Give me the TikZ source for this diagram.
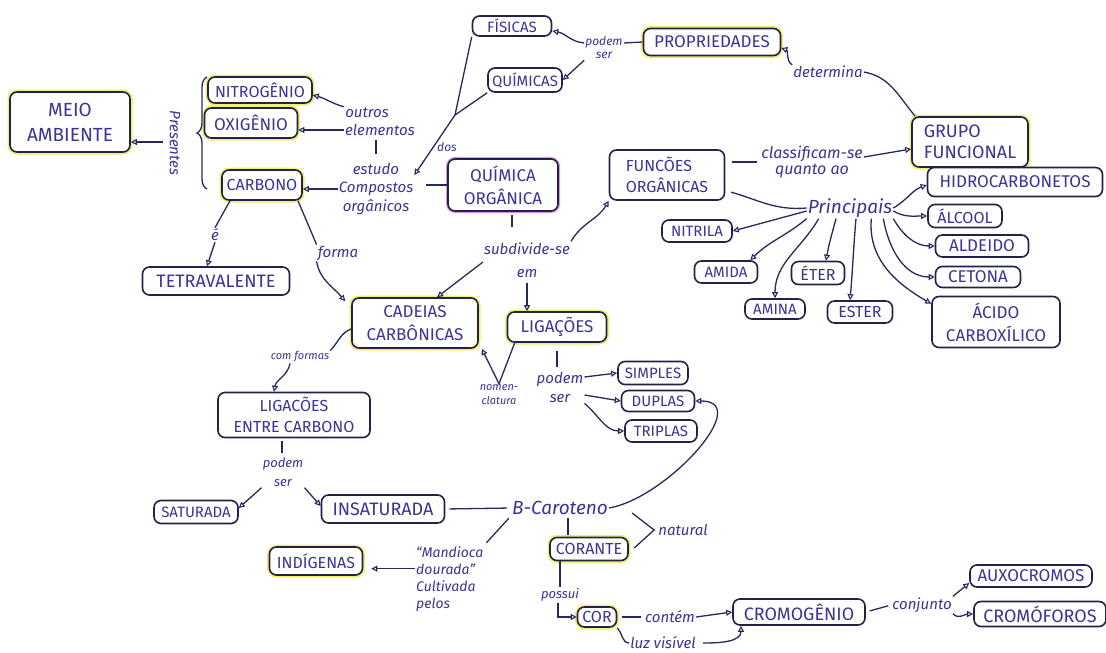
\documentclass[tikz,border=0pt]{standalone}
\usepackage{fontspec}
\setmainfont{Fira Sans}
\usetikzlibrary{arrows.meta,decorations.pathreplacing,calc}
\definecolor{ink}{RGB}{58,52,150}
\definecolor{edge}{RGB}{34,34,72}
\definecolor{wire}{RGB}{40,40,95}
\definecolor{glow}{RGB}{238,236,80}
\definecolor{pinkglow}{RGB}{215,150,225}
\newcommand{\fsz}[2]{\fontsize{#1}{#2}\selectfont}
\tikzset{
  box/.style={draw=edge, line width=1.6pt, rounded corners=7pt, text=ink,
    align=center, inner sep=2pt, fill=white},
  hl/.style={box, preaction={draw=glow, line width=5pt, draw opacity=0.85}},
  pk/.style={box, preaction={draw=pinkglow, line width=4pt}},
  lbl/.style={text=ink, inner sep=1pt, align=center, font=\itshape\fsz{15}{18}},
  con/.style={draw=wire, line width=1.3pt},
  arr/.style={con, -{Triangle[open, length=6pt, width=6pt, line width=1.1pt]}},
}
\begin{document}
\begin{tikzpicture}[x=1pt,y=-1pt]
\fill[white] (0,0) rectangle (1106,653);
\useasboundingbox (0,0) rectangle (1106,653);

% ---------- elements of organic compounds ----------
\node[hl, minimum width=120pt, minimum height=60pt, font=\fsz{19}{25}] (meio) at (70,122) {MEIO\\AMBIENTE};
\node[hl, minimum width=104pt, minimum height=26pt, font=\fsz{16}{18}] (nitro) at (260,90) {NITROGÊNIO};
\node[hl, minimum width=93pt, minimum height=30pt, font=\fsz{17}{19}] (oxi) at (251,123) {OXIGÊNIO};
\node[hl, minimum width=80pt, minimum height=30pt, font=\fsz{16}{18}] (carb) at (262,185) {CARBONO};
\node[box, minimum width=147pt, minimum height=28pt, font=\fsz{18}{20}] (tetra) at (216,281) {TETRAVALENTE};

\node[lbl, rotate=-90] (pres) at (175,143) {Presentes};
\coordinate (prestail) at (163,142);
\node[lbl] (outr) at (367,113) {outros};
\node[lbl] (elem) at (380,130) {elementos};
\node[lbl, font=\itshape\fsz{15}{18.5}] (estudo) at (376,189) {estudo\\Compostos\\orgânicos};
\node[lbl, font=\itshape\fsz{12}{14}] (dos) at (447,147) {dos};
\node[lbl] (e) at (215,235) {é};
\node[lbl] (form) at (338,253) {forma};
\coordinate (fq) at (455,115);

% ---------- properties ----------
\node[box, minimum width=79pt, minimum height=20pt, font=\fsz{15}{17}] (fis) at (512,26) {FÍSICAS};
\node[box, minimum width=74pt, minimum height=24pt, font=\fsz{15}{17}] (qui) at (525,80) {QUÍMICAS};
\node[lbl, font=\itshape\fsz{12}{13}] (pod1) at (604,48) {podem\\ser};
\node[hl, minimum width=137pt, minimum height=27pt, font=\fsz{17}{19}] (prop) at (712,42) {PROPRIEDADES};
\node[lbl] (det) at (828,72) {determina};
\node[hl, minimum width=116pt, minimum height=50pt, font=\fsz{18}{21}, align=left] (grupo) at (970,142) {GRUPO\\FUNCIONAL};

% ---------- organic chemistry and functions ----------
\node[pk, minimum width=110pt, minimum height=52pt, font=\fsz{17}{23}] (qo) at (503,185) {QUÍMICA\\ORGÂNICA};
\node[box, minimum width=115pt, minimum height=50pt, font=\fsz{16}{21}, align=left] (func) at (667,175) {FUNCÕES\\ORGÂNICAS};
\node[lbl, font=\itshape\fsz{16}{16}] (class) at (812,162) {classificam-se\\quanto ao};
\node[lbl, font=\itshape\fsz{19}{20}] (princ) at (850,208) {Principais};

\node[box, minimum width=175pt, minimum height=29pt, font=\fsz{17}{19}] (hidro) at (1015,182) {HIDROCARBONETOS};
\node[box, minimum width=74pt, minimum height=23pt, font=\fsz{16}{18}] (alc) at (965,216) {ÁLCOOL};
\node[box, minimum width=93pt, minimum height=22pt, font=\fsz{17}{19}] (ald) at (982,246) {ALDEIDO};
\node[box, minimum width=85pt, minimum height=21pt, font=\fsz{17}{19}] (cet) at (978,277) {CETONA};
\node[box, minimum width=128pt, minimum height=51pt, font=\fsz{17}{23}] (acid) at (996,322) {ÁCIDO\\CARBOXÍLICO};
\node[box, minimum width=70pt, minimum height=22pt, font=\fsz{15}{17}] (nitri) at (697,231) {NITRILA};
\node[box, minimum width=63pt, minimum height=22pt, font=\fsz{15}{17}] (amida) at (726,272) {AMIDA};
\node[box, minimum width=53pt, minimum height=23pt, font=\fsz{16}{18}] (eter) at (818,273) {ÉTER};
\node[box, minimum width=60pt, minimum height=20pt, font=\fsz{15}{17}] (amina) at (775,309) {AMINA};
\node[box, minimum width=65pt, minimum height=22pt, font=\fsz{16}{18}] (ester) at (860,312) {ESTER};

% ---------- chains and bonds ----------
\node[lbl, font=\itshape\fsz{15}{23}] (subd) at (527,260) {subdivide-se\\em};
\node[hl, minimum width=126pt, minimum height=50pt, font=\fsz{17}{23}] (cad) at (415,323) {CADEIAS\\CARBÔNICAS};
\node[hl, minimum width=99pt, minimum height=30pt, font=\fsz{17}{19}] (lig) at (557,327) {LIGAÇÕES};
\node[lbl, font=\itshape\fsz{15}{19}] (pod2) at (560,387) {podem\\ser};
\node[lbl, font=\itshape\fsz{11}{14}] (nomen) at (499,395) {nomen-\\clatura};
\node[box, minimum width=70pt, minimum height=23pt, font=\fsz{15}{17}] (simp) at (653,373) {SIMPLES};
\node[box, minimum width=73pt, minimum height=21pt, font=\fsz{15}{17}] (dup) at (658,401) {DUPLAS};
\node[box, minimum width=72pt, minimum height=22pt, font=\fsz{15}{17}] (trip) at (661,431) {TRIPLAS};

\node[lbl, font=\itshape\fsz{11}{13}] (comf) at (300,357) {com formas};
\node[box, minimum width=152pt, minimum height=45pt, font=\fsz{16}{21}] (ligec) at (294,415) {LIGACÕES\\ENTRE CARBONO};
\node[lbl, font=\itshape\fsz{13}{19}] (pod3) at (283,472) {podem\\ser};
\node[box, minimum width=84pt, minimum height=23pt, font=\fsz{15}{17}] (sat) at (196,512) {SATURADA};
\node[box, minimum width=123pt, minimum height=28pt, font=\fsz{18}{20}] (insat) at (383,509) {INSATURADA};

% ---------- beta-carotene ----------
\node[lbl, font=\itshape\fsz{19}{20}] (bcar) at (560,508) {B-Caroteno};
\node[hl, minimum width=78pt, minimum height=23pt, font=\fsz{16}{18}] (coran) at (589,549) {CORANTE};
\node[lbl] (nat) at (683,530) {natural};
\node[lbl, align=left, anchor=north west, font=\itshape\fsz{14}{17}] (mand) at (415,545) {“Mandioca\\dourada”\\Cultivada\\pelos};
\node[hl, minimum width=93pt, minimum height=28pt, font=\fsz{16}{18}] (indig) at (316,561) {INDÍGENAS};
\node[lbl, font=\itshape\fsz{13}{15}] (poss) at (560,595) {possui};
\node[hl, minimum width=39pt, minimum height=20pt, font=\fsz{16}{18}] (cor) at (597,617) {COR};
\node[lbl] (cont) at (670,617) {contém};
\node[box, minimum width=132pt, minimum height=26pt, font=\fsz{18}{20}] (crom) at (799,612) {CROMOGÊNIO};
\node[lbl] (luz) at (663,643) {luz visível};
\node[lbl] (conj) at (922,605) {conjunto};
\node[box, minimum width=122pt, minimum height=22pt, font=\fsz{17}{19}] (aux) at (1031,576) {AUXOCROMOS};
\node[box, minimum width=132pt, minimum height=25pt, font=\fsz{18}{20}] (crof) at (1040,614) {CROMÓFOROS};

% ---------- connectors: elements ----------
\draw[con, decorate, decoration={brace, amplitude=10pt}] (207,189) -- (207,77);
\draw[arr] (prestail) -- (prestail -| meio.east);
\draw[arr] (outr.north west) to[out=165,in=-15] ([yshift=-5pt]nitro.east);
\draw[arr] (elem.west) -- (elem.west -| oxi.east);
\draw[con, shorten <=3pt, shorten >=8pt] (estudo.north |- elem.south) -- (estudo.north);
\draw[arr] (estudo.west) -- (estudo.west -| carb.east);
\draw[con, shorten >=12pt] (qo.west) -- (qo.west -| estudo.east);
\draw[con] (fis.south west) -- (fq);
\draw[con] (qui.south west) -- (fq);
\draw[arr] (fq) -- (estudo.20);
\draw[con] ([xshift=-32pt]carb.south) -- (e.north);
\draw[arr] (e.south) -- ([xshift=-9pt]tetra.north);
\draw[con] ([xshift=36pt]carb.south) -- (form.north west);
\draw[arr] (form.south west) to[out=-80,in=130] ([xshift=-6pt,yshift=-4pt]cad.north west);

% ---------- connectors: properties ----------
\draw[arr] ([yshift=5pt]pod1.west) to[out=175,in=-10] ([yshift=-5pt]fis.east);
\draw[arr] (pod1.south west) -- (qui.east);
\draw[con] ([yshift=5pt]pod1.east) -- (prop.west);
\draw[arr] (det.north west) to[out=150,in=-20] ([yshift=-6pt]prop.east);
\draw[con] (det.east) to[out=-10,in=130] ([xshift=4pt]grupo.north west);

% ---------- connectors: functions ----------
\draw[con, shorten <=7pt, shorten >=3pt] ([yshift=13pt]func.east) -- (class.west);
\draw[arr] ([yshift=5pt]class.east) -- ([yshift=-7pt]grupo.west);
\draw[con, shorten <=6pt] (func.-15) to[out=-15,in=185] (princ.west);
\draw[arr] ([yshift=-3pt]princ.west) -- (nitri.east);
\draw[arr] (princ.south west) to[out=-140,in=45] ([xshift=-8pt]amida.north east);
\draw[arr] ([xshift=12pt]princ.south west) to[out=-120,in=90] (amina.north);
\draw[arr] ([xshift=-14pt]princ.south) to[out=-105,in=80] ([xshift=8pt]eter.north);
\draw[arr] ([xshift=6pt]princ.south) to[out=-95,in=85] ([xshift=-10pt]ester.north);
\draw[arr] (princ.east) to[out=30,in=200] ([yshift=-3pt]hidro.west);
\draw[arr] ([yshift=-3pt]princ.east) to[out=-30,in=180] (alc.west);
\draw[arr] (princ.south east) to[out=-60,in=180] (ald.west);
\draw[arr] ([xshift=-10pt]princ.south east) to[out=-80,in=180] (cet.west);
\draw[arr] ([xshift=-22pt]princ.south east) to[out=-95,in=150] ([yshift=-8pt]acid.north west);

% ---------- connectors: chains and bonds ----------
\draw[con, shorten <=3pt, shorten >=14pt] ([xshift=9pt]qo.south) -- ([xshift=9pt]qo.south |- subd.north);
\draw[arr] ([yshift=-2pt]subd.west) -- ([xshift=22pt]cad.north);
\draw[arr] (subd.north east) to[out=60,in=-120] (func.south west);
\draw[arr, shorten <=4pt] (subd.south) -- (subd.south |- lig.north);
\draw[arr] ([xshift=8pt]lig.south west) -- (nomen.north) -- ([xshift=3pt]cad.south east);
\draw[con, shorten <=8pt, shorten >=4pt] (lig.south) -- (lig.south |- pod2.north);
\draw[arr] ([yshift=10pt]pod2.east) -- (simp.west);
\draw[arr] ([yshift=-8pt]pod2.east) -- (dup.west);
\draw[arr] (pod2.south east) to[out=-40,in=180] (trip.west);

\draw[con] ([yshift=-6pt]cad.west) to[out=200,in=45] (comf.north east);
\draw[arr] ([xshift=-10pt]comf.south) to[out=-100,in=80] ([xshift=-20pt]ligec.north);
\draw[con, shorten <=3pt, shorten >=3pt] ([xshift=-12pt]ligec.south) -- ([xshift=-12pt]ligec.south |- pod3.north);
\draw[arr] (pod3.south west) -- ([yshift=4pt]sat.east);
\draw[arr] (pod3.south east) -- ([yshift=3pt]insat.west);

% ---------- connectors: beta-carotene ----------
\draw[con, shorten <=4pt, shorten >=4pt] (insat.east) -- (bcar.west);
\draw[arr] (bcar.east) to[out=10,in=0,looseness=1.1] (dup.east);
\draw[con, shorten <=2pt, shorten >=2pt] ([xshift=8pt]bcar.south) -- ([xshift=8pt]bcar.south |- coran.north);
\draw[con] ($(nat.west)+(-25,-17)$) -- ([xshift=-3pt]nat.west) -- ($(nat.west)+(-23,18)$);
\draw[con, shorten <=3pt, shorten >=3pt] (bcar.south west) -- (mand.north east);
\draw[arr, shorten >=8pt] ([yshift=10pt]mand.west) -- ([yshift=10pt]mand.west -| indig.east);
\draw[con] (poss.north |- coran.south) -- (poss.north);
\draw[arr] ([xshift=-2pt]poss.south) |- (cor.west);
\draw[con, shorten <=5pt, shorten >=3pt] (cor.east) -- (cont.west);
\draw[arr] (cont.east) -- (crom.west);
\draw[con] (cor.south east) to[out=-45,in=180] (luz.west);
\draw[arr] ([xshift=6pt]luz.east) to[out=0,in=-90] ([xshift=-58pt]crom.south);
\draw[con, shorten <=4pt, shorten >=3pt] (crom.east) -- (conj.west);
\draw[arr] (conj.north east) -- ([yshift=-7pt]aux.west);
\draw[arr] (conj.south east) to[out=-50,in=180] (crof.west);
\end{tikzpicture}
\end{document}
